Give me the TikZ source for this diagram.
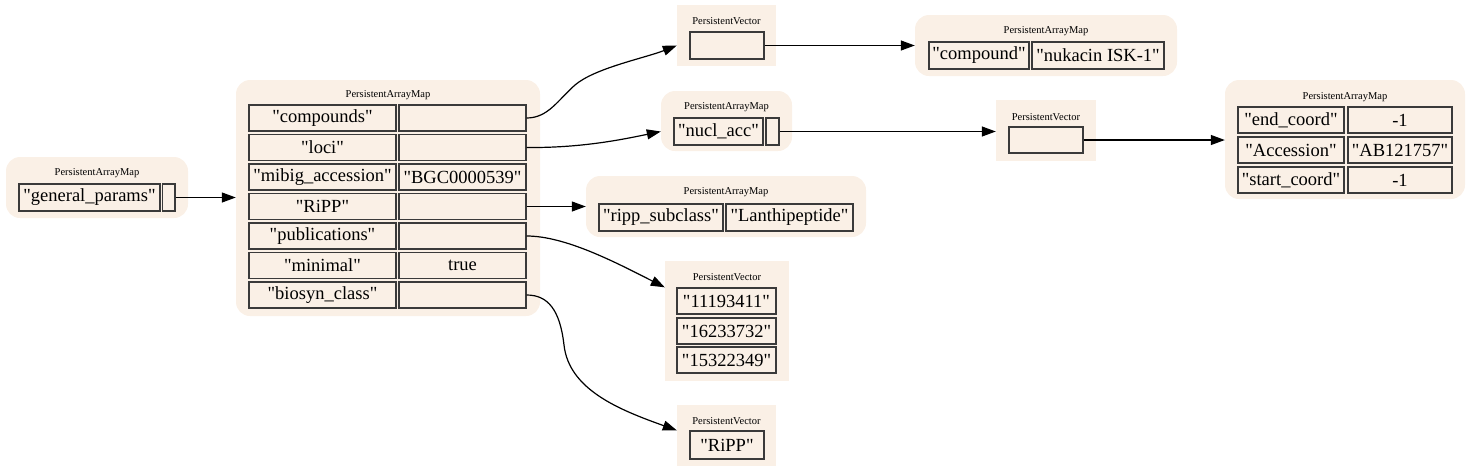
\documentclass[tikz,border=0pt]{standalone}
\usepackage{fontspec}
\setmainfont{Liberation Serif}
\usetikzlibrary{arrows.meta}
\definecolor{linen}{HTML}{FAF0E6}
\definecolor{cellline}{HTML}{3A3A3A}
\tikzset{
  mapbg/.style={fill=linen, draw=none, rounded corners=14pt, inner sep=0pt},
  vecbg/.style={fill=linen, draw=none, inner sep=0pt},
  cellbox/.style={draw=cellline, line width=1.3pt, inner sep=0pt, font=\fontsize{18.5}{20}\selectfont},
  ttl/.style={inner sep=0pt, font=\fontsize{10.5}{12}\selectfont},
  link/.style={line width=1.2pt, -{Triangle[length=14pt,width=10pt]}},
}
\newcommand\qq[1]{\textquotedbl#1\textquotedbl}
\newcommand\mycell[6]{\node[cellbox, minimum width={(#4-#2)*1pt}, minimum height={(#5-#3)*1pt}] (#1) at ({(#2+#4)/2},{(#3+#5)/2}) {#6};}
\newcommand\mybox[6]{\node[#6, minimum width={(#4-#2)*1pt}, minimum height={(#5-#3)*1pt}] (#1) at ({(#2+#4)/2},{(#3+#5)/2}) {};}
\begin{document}
\begin{tikzpicture}[x=1pt,y=-1pt]
\useasboundingbox (0,0) rectangle (1471,472);
% backgrounds
\mybox{gbg}{6}{157}{188}{218}{mapbg}
\mybox{mbg}{236}{80}{540}{316}{mapbg}
\mybox{pvabg}{677}{5}{776}{66}{vecbg}
\mybox{cmbg}{915}{15}{1177}{76}{mapbg}
\mybox{nabg}{661}{91}{792}{151}{mapbg}
\mybox{pvbbg}{996}{100}{1096}{161}{vecbg}
\mybox{embg}{1225}{80}{1465}{199}{mapbg}
\mybox{rmbg}{586}{176}{866}{237}{mapbg}
\mybox{pubbg}{665}{261}{789}{381}{vecbg}
\mybox{rvbg}{677}{405}{776}{466}{vecbg}
% titles
\node[ttl] (gt) at (97,173) {PersistentArrayMap};
\node[ttl] (mt) at (388,95) {PersistentArrayMap};
\node[ttl] (pvat) at (726.5,21) {PersistentVector};
\node[ttl] (cmt) at (1046,31) {PersistentArrayMap};
\node[ttl] (nat) at (726.5,107) {PersistentArrayMap};
\node[ttl] (pvbt) at (1046,117) {PersistentVector};
\node[ttl] (emt) at (1345,97) {PersistentArrayMap};
\node[ttl] (rmt) at (726,192) {PersistentArrayMap};
\node[ttl] (pubt) at (727,277) {PersistentVector};
\node[ttl] (rvt) at (726.5,421) {PersistentVector};
% general params
\mycell{g1}{19}{184}{160}{211}{\qq{general\_params}}
\mycell{g2}{162.5}{184}{175}{211}{}
% main map
\mycell{k1}{249}{105}{396}{131}{\qq{compounds}}
\mycell{v1}{399}{105}{526}{131}{}
\mycell{k2}{249}{134.5}{396}{160.5}{\qq{loci}}
\mycell{v2}{399}{134.5}{526}{160.5}{}
\mycell{k3}{249}{164}{396}{190}{\qq{mibig\_accession}}
\mycell{v3}{399}{164}{526}{190}{\qq{BGC0000539}}
\mycell{k4}{249}{193.5}{396}{219.5}{\qq{RiPP}}
\mycell{v4}{399}{193.5}{526}{219.5}{}
\mycell{k5}{249}{223}{396}{249}{\qq{publications}}
\mycell{v5}{399}{223}{526}{249}{}
\mycell{k6}{249}{252.5}{396}{278.5}{\qq{minimal}}
\mycell{v6}{399}{252.5}{526}{278.5}{true}
\mycell{k7}{249}{282}{396}{308}{\qq{biosyn\_class}}
\mycell{v7}{399}{282}{526}{308}{}
% vector for compounds
\mycell{pva}{690}{32}{764}{59}{}
% compound map
\mycell{cm1}{929}{42}{1029}{69}{\qq{compound}}
\mycell{cm2}{1032}{42}{1164}{69}{\qq{nukacin ISK-1}}
% nucl_acc map
\mycell{na1}{674}{118}{763}{145}{\qq{nucl\_acc}}
\mycell{na2}{766}{118}{779}{145}{}
% vector for loci
\mycell{pvb}{1009}{127}{1083}{153}{}
% coord map
\mycell{e1}{1238}{107}{1344}{133}{\qq{end\_coord}}
\mycell{f1}{1348}{107}{1452}{133}{-1}
\mycell{e2}{1238}{137}{1344}{163}{\qq{Accession}}
\mycell{f2}{1348}{137}{1452}{163}{\qq{AB121757}}
\mycell{e3}{1238}{167}{1344}{193}{\qq{start\_coord}}
\mycell{f3}{1348}{167}{1452}{193}{-1}
% ripp map
\mycell{r1}{599}{204}{723}{231}{\qq{ripp\_subclass}}
\mycell{r2}{726}{204}{853}{231}{\qq{Lanthipeptide}}
% publications vector
\mycell{p1}{677}{288}{776}{314}{\qq{11193411}}
\mycell{p2}{677}{318}{776}{344}{\qq{16233732}}
\mycell{p3}{677}{347}{776}{373}{\qq{15322349}}
% RiPP vector
\mycell{rv}{690}{431}{764}{459}{\qq{RiPP}}
% edges
\draw[link] (g2.east) -- (g2.east -| mbg.west);
\draw[link] (v1.east) .. controls (548,118) and (558,100) .. (575,85)
  .. controls (595,68) and (645,58) .. (pvabg.west |- pva.center);
\draw[link] (v2.east) .. controls (580,148) and (620,140) .. (nabg.west |- na1.center);
\draw[link] (v4.east) -- (v4.east -| rmbg.west);
\draw[link] (v5.east) .. controls (565,236) and (615,262) .. (pubbg.west |- p1.north);
\draw[link] (v7.east) .. controls (548,295) and (560,310) .. (564,345)
  .. controls (569,390) and (620,410) .. (rvbg.west |- rv.north);
\draw[link] (pva.east) -- (pva.east -| cmbg.west);
\draw[link] (na2.east) -- (na2.east -| pvbbg.west);
\draw[link] (pvb.east) -- (pvb.east -| embg.west);
\end{tikzpicture}
\end{document}
